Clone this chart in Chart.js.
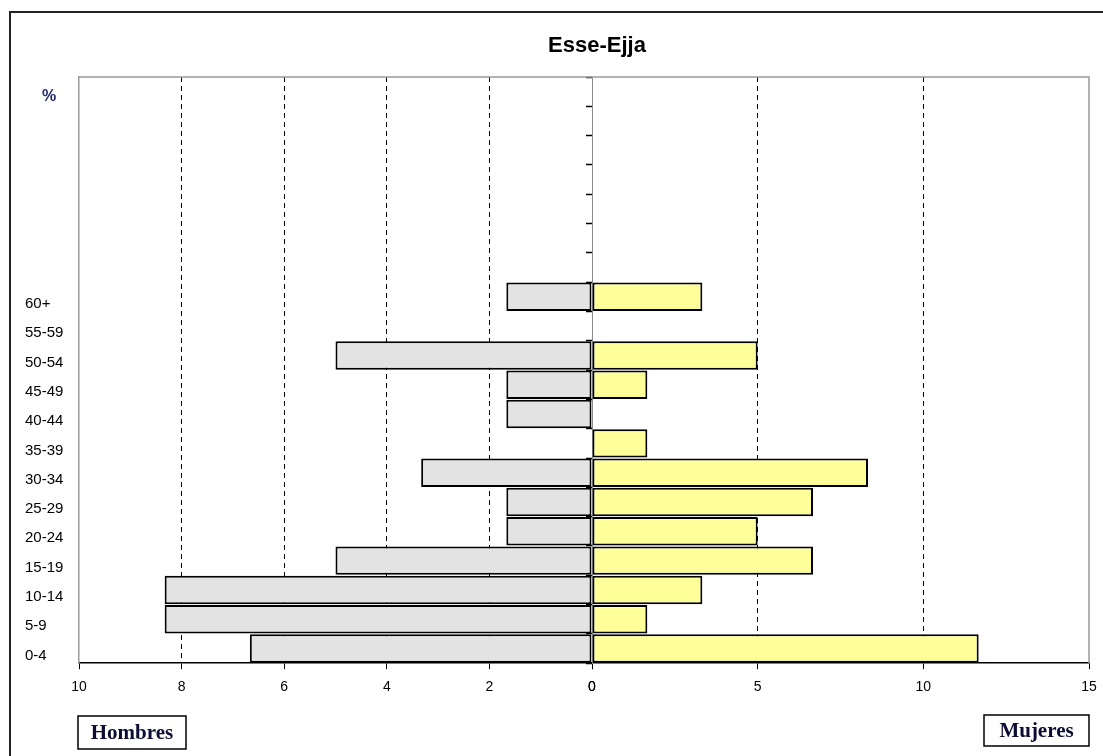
<!DOCTYPE html>
<html lang="es">
<head>
<meta charset="utf-8">
<title>Esse-Ejja</title>
<script src="https://cdn.jsdelivr.net/npm/chart.js@4.4.1/dist/chart.umd.min.js"></script>
<style>
  html, body { margin: 0; padding: 0; background: #fff; }
  #wrap { width: 1103px; height: 756px; position: relative; }
</style>
</head>
<body>
<div id="wrap"><canvas id="piramide" width="1103" height="756"></canvas></div>
<script>
// Pirámide de población Esse-Ejja, porcentaje por grupo de edad
const gruposEdad = ['0-4', '5-9', '10-14', '15-19', '20-24', '25-29', '30-34',
                    '35-39', '40-44', '45-49', '50-54', '55-59', '60+'];
const filasVacias = ['', '', '', '', '', '', ''];
const hombres = [6.67, 8.33, 8.33, 5.0, 1.67, 1.67, 3.33, 0, 1.67, 1.67, 5.0, 0, 1.67];
const mujeres = [11.67, 1.67, 3.33, 6.67, 5.0, 6.67, 8.33, 1.67, 0, 1.67, 5.0, 0, 3.33];
const ticksHombres = [0, 2, 4, 6, 8, 10];
const ticksMujeres = [0, 5, 10, 15];

const etiquetas = gruposEdad.concat(filasVacias);

// las lineas discontinuas solo en los valores interiores
function colorRejilla(limites) {
  return ctx => (ctx.tick && limites.includes(ctx.tick.value)) ? 'rgba(0,0,0,0)' : '#000';
}

// el padding de las etiquetas no debe empujar el borde del area
function ajustarMargen(s) {
  s.paddingLeft = 8;
  s.paddingRight = 8;
}

const adornos = {
  id: 'adornos',
  beforeDraw(chart) {
    const { ctx } = chart;
    ctx.save();
    ctx.strokeStyle = '#222';
    ctx.lineWidth = 2;
    ctx.beginPath();
    ctx.moveTo(10, 756);
    ctx.lineTo(10, 12);
    ctx.lineTo(1103, 12);
    ctx.stroke();
    ctx.restore();
  },
  beforeDatasetsDraw(chart) {
    const { ctx, chartArea: a } = chart;
    ctx.save();
    ctx.strokeStyle = '#9a9a9a';
    ctx.lineWidth = 1.5;
    ctx.beginPath();
    ctx.moveTo(a.left, a.top);
    ctx.lineTo(a.right, a.top);
    ctx.lineTo(a.right, a.bottom);
    ctx.stroke();
    ctx.restore();
  },
  afterDraw(chart) {
    const { ctx } = chart;
    ctx.save();
    ctx.textAlign = 'center';
    ctx.textBaseline = 'middle';

    ctx.fillStyle = '#000';
    ctx.font = 'bold 22px "Liberation Sans", Arial, sans-serif';
    ctx.fillText('Esse-Ejja', 597, 46);

    ctx.fillStyle = '#1f2a66';
    ctx.font = 'bold 16px "Liberation Sans", Arial, sans-serif';
    ctx.fillText('%', 49, 97);

    const cajas = [
      { texto: 'Hombres', x: 78, y: 716, w: 108, h: 33 },
      { texto: 'Mujeres', x: 984, y: 715, w: 105, h: 31 }
    ];
    ctx.font = 'bold 21px "Liberation Serif", "Times New Roman", serif';
    cajas.forEach(c => {
      ctx.fillStyle = '#fff';
      ctx.fillRect(c.x, c.y, c.w, c.h);
      ctx.strokeStyle = '#000';
      ctx.lineWidth = 1.5;
      ctx.strokeRect(c.x, c.y, c.w, c.h);
      ctx.fillStyle = '#0d0d33';
      ctx.fillText(c.texto, c.x + c.w / 2, c.y + c.h / 2 + 1);
    });
    ctx.restore();
  }
};

const fuenteEjes = { family: '"Liberation Sans", Arial, sans-serif', size: 14 };

new Chart(document.getElementById('piramide'), {
  type: 'bar',
  data: {
    labels: etiquetas,
    datasets: [
      {
        label: 'Hombres',
        data: hombres,
        xAxisID: 'xHombres',
        yAxisID: 'y',
        backgroundColor: '#e3e3e3',
        borderColor: '#000',
        borderWidth: 2,
        borderSkipped: false,
        grouped: false,
        barPercentage: 0.97,
        categoryPercentage: 1
      },
      {
        label: 'Mujeres',
        data: mujeres,
        xAxisID: 'xMujeres',
        yAxisID: 'y',
        backgroundColor: '#ffff99',
        borderColor: '#000',
        borderWidth: 2,
        borderSkipped: false,
        grouped: false,
        barPercentage: 0.97,
        categoryPercentage: 1
      }
    ]
  },
  options: {
    indexAxis: 'y',
    responsive: false,
    animation: false,
    layout: { padding: { left: 25, right: 14, top: 77, bottom: 50 } },
    plugins: {
      legend: { display: false },
      tooltip: { enabled: false },
      title: { display: false }
    },
    scales: {
      xHombres: {
        type: 'linear',
        position: 'bottom',
        stack: 'piramide',
        stackWeight: 513,
        reverse: true,
        min: 0,
        max: 10,
        afterBuildTicks: s => { s.ticks = ticksHombres.map(v => ({ value: v })); },
        afterFit: ajustarMargen,
        ticks: { autoSkip: false, padding: 10, color: '#000', font: fuenteEjes },
        grid: {
          color: colorRejilla([0, 10]),
          lineWidth: 1,
          tickLength: 6,
          tickColor: '#000',
          tickWidth: 1
        },
        border: { color: '#000', width: 1.5, dash: [5, 4] }
      },
      xMujeres: {
        type: 'linear',
        position: 'bottom',
        stack: 'piramide',
        stackWeight: 497,
        min: 0,
        max: 15,
        afterBuildTicks: s => { s.ticks = ticksMujeres.map(v => ({ value: v })); },
        afterFit: ajustarMargen,
        ticks: { autoSkip: false, padding: 10, color: '#000', font: fuenteEjes },
        grid: {
          color: colorRejilla([0, 15]),
          lineWidth: 1,
          tickLength: 6,
          tickColor: '#000',
          tickWidth: 1
        },
        border: { color: '#000', width: 1.5, dash: [5, 4] }
      },
      y: {
        type: 'category',
        position: 'left',
        reverse: true,
        offset: true,
        afterFit: s => { s.width = 54; },
        ticks: {
          autoSkip: false,
          crossAlign: 'far',
          labelOffset: 7,
          color: '#000',
          font: { family: '"Liberation Sans", Arial, sans-serif', size: 15 }
        },
        grid: { display: false },
        border: { color: '#9a9a9a', width: 1.5 }
      },
      // eje central con marcas entre grupos de edad
      yCentro: {
        type: 'category',
        position: { xHombres: 0 },
        reverse: true,
        offset: true,
        ticks: { display: false },
        grid: {
          offset: true,
          drawOnChartArea: false,
          tickLength: 6,
          tickColor: '#000',
          tickWidth: 1.5
        },
        border: { color: '#8c8c8c', width: 1 }
      }
    }
  },
  plugins: [adornos]
});
</script>
</body>
</html>
